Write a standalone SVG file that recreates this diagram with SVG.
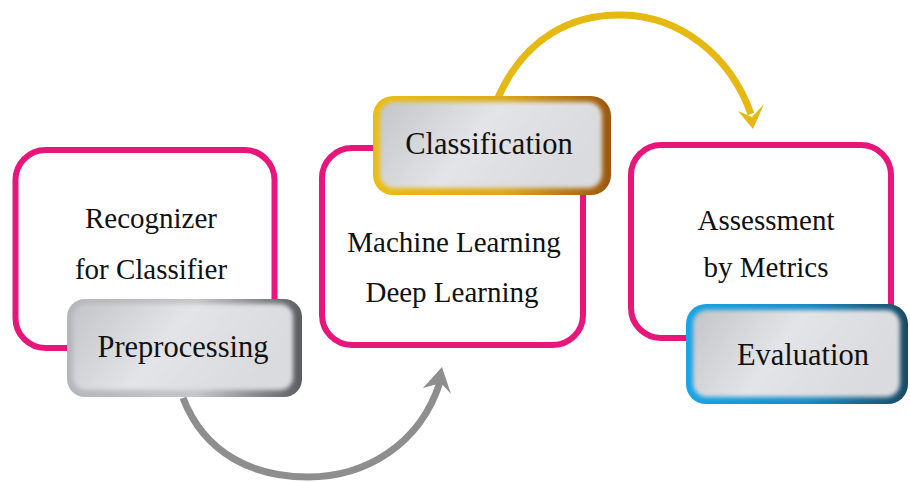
<svg xmlns="http://www.w3.org/2000/svg" width="910" height="482" viewBox="0 0 910 482">
<defs>
<style>
.frame{fill:#fff;stroke:#e8157a;stroke-width:6}
.t{font-family:"Liberation Serif","Times New Roman",serif;font-size:29px;fill:#111;text-anchor:middle}
.lab{font-size:30.5px}
.inner{filter:url(#soft)}
</style>
<filter id="soft" x="-10%" y="-10%" width="120%" height="120%"><feGaussianBlur stdDeviation="2.2"/></filter>
<linearGradient id="grayEdge" x1="0" y1="0" x2="1" y2="0"><stop offset="0" stop-color="#b4b6b9"/><stop offset="0.55" stop-color="#c4c6c9"/><stop offset="1" stop-color="#5c5d60"/></linearGradient>
<linearGradient id="goldEdge" x1="0" y1="0" x2="1" y2="0"><stop offset="0" stop-color="#ebbd12"/><stop offset="0.55" stop-color="#dcaa1c"/><stop offset="1" stop-color="#9c5710"/></linearGradient>
<linearGradient id="blueEdge" x1="0" y1="0" x2="1" y2="0"><stop offset="0" stop-color="#18a4e6"/><stop offset="0.55" stop-color="#1a8bc6"/><stop offset="1" stop-color="#1b4a64"/></linearGradient>
<linearGradient id="fillG" x1="0" y1="0" x2="1" y2="0.3"><stop offset="0" stop-color="#c3c5c8"/><stop offset="0.5" stop-color="#e3e4e7"/><stop offset="1" stop-color="#dadbde"/></linearGradient>
</defs>

<g id="connectors">
<path d="M183,398 C205,455 255,477 308,477 C365,477 420,445 440,382" fill="none" stroke="#8e8e8e" stroke-width="7"/>
<polygon points="442,367 451,394 441,383 423,388" fill="#8e8e8e"/>
<path d="M497,100 C525,35 575,14 622,15 C680,16 730,55 751,114" fill="none" stroke="#e6b912" stroke-width="7"/>
<polygon points="753,129 738,111 752,117 764,104" fill="#e6b912"/>
</g>

<g id="node-recognizer">
<rect class="frame" x="15.5" y="150" width="259" height="198" rx="30"/>
<text class="t" x="151" y="228">Recognizer</text>
<text class="t" x="151" y="279">for Classifier</text>
</g>
<g id="node-ml">
<rect class="frame" x="322" y="148" width="261" height="197" rx="30"/>
<text class="t" x="454" y="252">Machine Learning</text>
<text class="t" x="452" y="302">Deep Learning</text>
</g>
<g id="node-assessment">
<rect class="frame" x="631" y="145" width="260" height="193" rx="30"/>
<text class="t" x="766" y="230">Assessment</text>
<text class="t" x="766" y="277">by Metrics</text>
</g>

<g id="node-preprocessing">
<rect x="67" y="299" width="235" height="98" rx="18" fill="url(#grayEdge)"/>
<rect class="inner" x="73" y="304" width="220" height="86" rx="13" fill="url(#fillG)"/>
<text class="t lab" x="183" y="357">Preprocessing</text>
</g>
<g id="node-classification">
<rect x="373" y="96" width="238" height="99" rx="20" fill="url(#goldEdge)"/>
<rect class="inner" x="380" y="102" width="222" height="86" rx="14" fill="url(#fillG)"/>
<text class="t lab" x="489" y="154">Classification</text>
</g>
<g id="node-evaluation">
<rect x="686" y="304" width="222" height="100" rx="20" fill="url(#blueEdge)"/>
<rect class="inner" x="693" y="310" width="207" height="87" rx="14" fill="url(#fillG)"/>
<text class="t lab" x="803" y="365">Evaluation</text>
</g>
</svg>
